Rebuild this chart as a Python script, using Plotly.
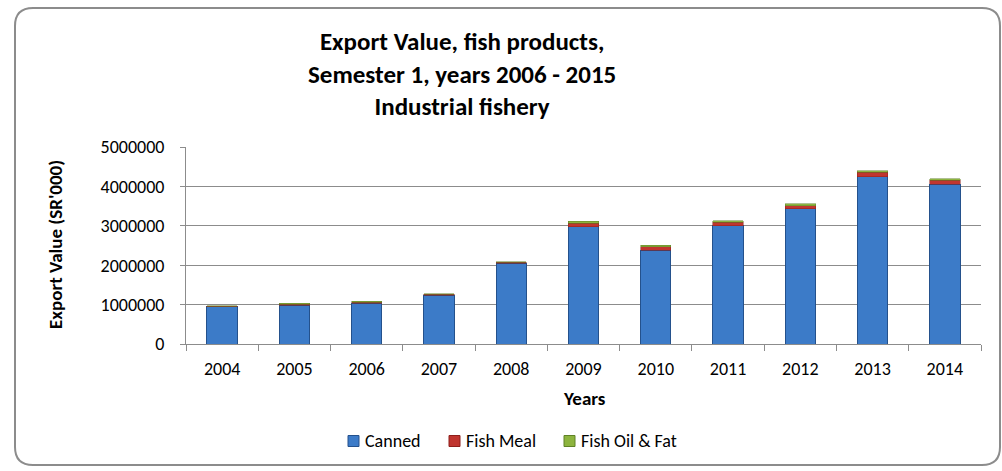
import plotly.graph_objects as go

# Export value by product type, thousands of SR
years = ["2004", "2005", "2006", "2007", "2008", "2009", "2010", "2011", "2012", "2013", "2014"]
canned = [940000, 985000, 1040000, 1240000, 2050000, 2980000, 2380000, 3000000, 3430000, 4250000, 4060000]
fish_meal = [20000, 30000, 25000, 25000, 30000, 80000, 90000, 90000, 80000, 110000, 90000]
fish_oil_fat = [10000, 15000, 15000, 15000, 10000, 50000, 40000, 40000, 50000, 40000, 40000]

y_ticks = [0, 1000000, 2000000, 3000000, 4000000, 5000000]

series = [
    ("Canned", canned, "#3C7BC8", "#24518C"),
    ("Fish Meal", fish_meal, "#C0352F", "#8E1F1B"),
    ("Fish Oil & Fat", fish_oil_fat, "#8DB43E", "#5F8226"),
]

FONT = "Carlito, Calibri, Lato, sans-serif"

W, H = 1002, 471
L, R, T, B = 186, 21, 147, 127
PW, PH = W - L - R, H - T - B


def px(x):
    return (x - L) / PW


def py(y):
    return (H - B - y) / PH


fig = go.Figure()
for name, vals, fill, edge in series:
    fig.add_trace(go.Bar(
        x=years, y=vals, name=name, showlegend=False,
        marker=dict(color=fill, line=dict(color=edge, width=1 if name == "Canned" else 0.5)),
    ))

# rounded frame around the whole chart
x0, x1, y0, y1, r = 15, 1000, 8, 465, 18
path = (
    f"M {px(x0 + r)} {py(y0)} L {px(x1 - r)} {py(y0)} "
    f"Q {px(x1)} {py(y0)} {px(x1)} {py(y0 + r)} "
    f"L {px(x1)} {py(y1 - r)} Q {px(x1)} {py(y1)} {px(x1 - r)} {py(y1)} "
    f"L {px(x0 + r)} {py(y1)} Q {px(x0)} {py(y1)} {px(x0)} {py(y1 - r)} "
    f"L {px(x0)} {py(y0 + r)} Q {px(x0)} {py(y0)} {px(x0 + r)} {py(y0)} Z"
)
shapes = [dict(
    type="path", xref="paper", yref="paper", path=path,
    line=dict(color="#8C8C8C", width=2), layer="below",
)]

annotations = [
    dict(
        text="<b>Export Value, fish products,<br>Semester 1, years 2006 - 2015<br>Industrial fishery</b>",
        xref="paper", yref="paper", x=px(462), y=py(74), xanchor="center", yanchor="middle",
        showarrow=False, font=dict(family=FONT, size=25), align="center",
    ),
    dict(
        text="<b>Export Value (SR'000)</b>",
        xref="paper", yref="paper", x=px(55), y=py(245), xanchor="center", yanchor="middle",
        textangle=-90, showarrow=False, font=dict(family=FONT, size=19),
    ),
    dict(
        text="<b>Years</b>",
        xref="paper", yref="paper", x=px(584), y=py(398), xanchor="center", yanchor="middle",
        showarrow=False, font=dict(family=FONT, size=19),
    ),
]

# legend: colour swatch followed by series name
legend_x = [348, 449, 564]
legend_y = 441
sw = 11
for (name, _, fill, edge), lx in zip(series, legend_x):
    shapes.append(dict(
        type="rect", xref="paper", yref="paper",
        x0=px(lx), x1=px(lx + sw), y0=py(legend_y + sw / 2), y1=py(legend_y - sw / 2),
        fillcolor=fill, line=dict(color=edge, width=1),
    ))
    annotations.append(dict(
        text=name, xref="paper", yref="paper", x=px(lx + sw + 4), y=py(legend_y),
        xanchor="left", yanchor="middle", showarrow=False,
        font=dict(family=FONT, size=18),
    ))

fig.update_layout(
    width=W, height=H,
    margin=dict(l=L, r=R, t=T, b=B),
    barmode="stack",
    bargap=0.58,
    paper_bgcolor="white",
    plot_bgcolor="white",
    font=dict(family=FONT, size=18, color="#000000"),
    showlegend=False,
    shapes=shapes,
    annotations=annotations,
    xaxis=dict(
        type="category", range=[-0.5, 10.5],
        showline=True, linecolor="#8C8C8C", linewidth=1,
        ticks="outside", tickson="boundaries", ticklen=6, tickcolor="#8C8C8C",
        ticklabelstandoff=8, showgrid=False,
        tickfont=dict(family=FONT, size=18),
    ),
    yaxis=dict(
        range=[0, 5000000], tickvals=y_ticks, ticktext=[str(v) for v in y_ticks],
        showline=True, linecolor="#8C8C8C", linewidth=1,
        showgrid=True, gridcolor="#8C8C8C", gridwidth=1,
        ticks="outside", ticklen=5, tickcolor="#8C8C8C",
        ticklabelstandoff=12, zeroline=False,
        tickfont=dict(family=FONT, size=18),
    ),
)

fig.write_html("out.html")
